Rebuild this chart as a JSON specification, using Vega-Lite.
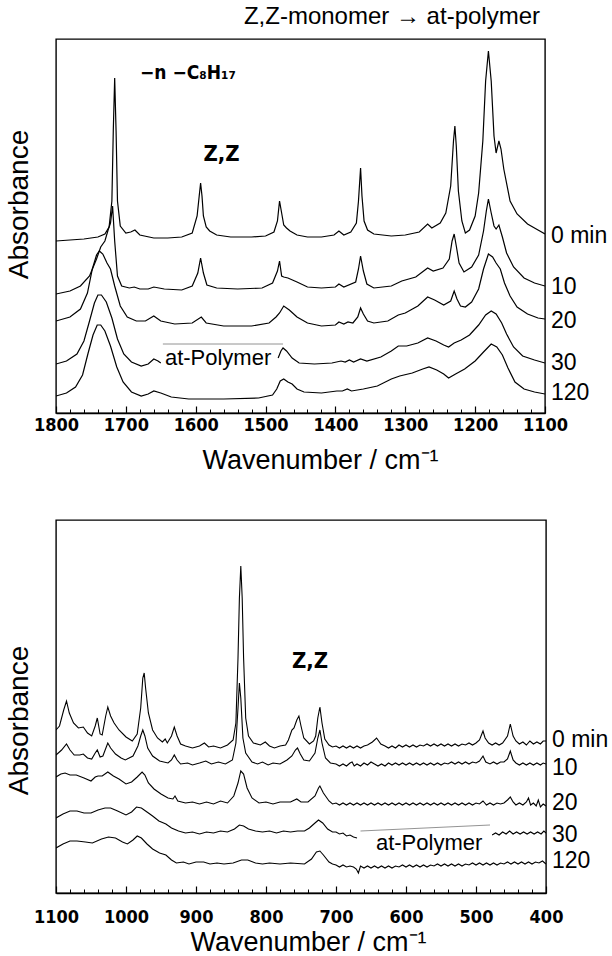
{
  "$schema": "https://vega.github.io/schema/vega-lite/v6.json",
  "padding": {"left": 4, "top": 4, "right": 0, "bottom": 0},
  "spacing": 45,
  "config": {
    "view": {"stroke": "black", "strokeWidth": 1.4},
    "font": "Liberation Sans",
    "axis": {"labelColor": "black", "titleColor": "black", "tickColor": "black", "domainColor": "black", "grid": false}
  },
  "datasets": {
    "top": [
      {"s":"0 min","x":1800,"y":1.72},{"s":"0 min","x":1780,"y":1.73},{"s":"0 min","x":1760,"y":1.74},{"s":"0 min","x":1740,"y":1.76},{"s":"0 min","x":1730,"y":1.79},{"s":"0 min","x":1724,"y":1.86},{"s":"0 min","x":1720,"y":2.12},{"s":"0 min","x":1718,"y":2.82},{"s":"0 min","x":1716,"y":3.35},{"s":"0 min","x":1714,"y":2.82},{"s":"0 min","x":1712,"y":2.12},{"s":"0 min","x":1708,"y":1.87},{"s":"0 min","x":1700,"y":1.80},{"s":"0 min","x":1693,"y":1.81},{"s":"0 min","x":1687,"y":1.83},{"s":"0 min","x":1680,"y":1.78},{"s":"0 min","x":1660,"y":1.75},{"s":"0 min","x":1640,"y":1.75},{"s":"0 min","x":1620,"y":1.76},{"s":"0 min","x":1605,"y":1.80},{"s":"0 min","x":1598,"y":1.97},{"s":"0 min","x":1595,"y":2.17},{"s":"0 min","x":1593,"y":2.30},{"s":"0 min","x":1591,"y":2.17},{"s":"0 min","x":1589,"y":1.97},{"s":"0 min","x":1585,"y":1.86},{"s":"0 min","x":1580,"y":1.82},{"s":"0 min","x":1570,"y":1.78},{"s":"0 min","x":1550,"y":1.76},{"s":"0 min","x":1520,"y":1.76},{"s":"0 min","x":1500,"y":1.77},{"s":"0 min","x":1488,"y":1.81},{"s":"0 min","x":1483,"y":1.92},{"s":"0 min","x":1480,"y":2.12},{"s":"0 min","x":1477,"y":2.00},{"s":"0 min","x":1474,"y":1.88},{"s":"0 min","x":1470,"y":1.85},{"s":"0 min","x":1465,"y":1.82},{"s":"0 min","x":1455,"y":1.78},{"s":"0 min","x":1440,"y":1.76},{"s":"0 min","x":1420,"y":1.76},{"s":"0 min","x":1402,"y":1.78},{"s":"0 min","x":1395,"y":1.82},{"s":"0 min","x":1388,"y":1.78},{"s":"0 min","x":1378,"y":1.81},{"s":"0 min","x":1370,"y":1.90},{"s":"0 min","x":1367,"y":2.12},{"s":"0 min","x":1364,"y":2.45},{"s":"0 min","x":1362,"y":2.17},{"s":"0 min","x":1359,"y":1.92},{"s":"0 min","x":1354,"y":1.83},{"s":"0 min","x":1345,"y":1.79},{"s":"0 min","x":1320,"y":1.77},{"s":"0 min","x":1300,"y":1.78},{"s":"0 min","x":1280,"y":1.81},{"s":"0 min","x":1268,"y":1.89},{"s":"0 min","x":1262,"y":1.85},{"s":"0 min","x":1250,"y":1.90},{"s":"0 min","x":1242,"y":2.00},{"s":"0 min","x":1235,"y":2.27},{"s":"0 min","x":1231,"y":2.72},{"s":"0 min","x":1229,"y":2.87},{"s":"0 min","x":1227,"y":2.67},{"s":"0 min","x":1224,"y":2.22},{"s":"0 min","x":1219,"y":1.92},{"s":"0 min","x":1214,"y":1.80},{"s":"0 min","x":1208,"y":1.83},{"s":"0 min","x":1200,"y":1.97},{"s":"0 min","x":1195,"y":2.20},{"s":"0 min","x":1189,"y":2.72},{"s":"0 min","x":1185,"y":3.32},{"s":"0 min","x":1181,"y":3.62},{"s":"0 min","x":1177,"y":3.32},{"s":"0 min","x":1173,"y":2.77},{"s":"0 min","x":1170,"y":2.60},{"s":"0 min","x":1166,"y":2.72},{"s":"0 min","x":1163,"y":2.64},{"s":"0 min","x":1159,"y":2.44},{"s":"0 min","x":1150,"y":2.12},{"s":"0 min","x":1140,"y":1.99},{"s":"0 min","x":1125,"y":1.89},{"s":"0 min","x":1110,"y":1.83},{"s":"0 min","x":1100,"y":1.79},
      {"s":"10","x":1800,"y":1.19},{"s":"10","x":1780,"y":1.22},{"s":"10","x":1765,"y":1.27},{"s":"10","x":1752,"y":1.37},{"s":"10","x":1742,"y":1.54},{"s":"10","x":1736,"y":1.66},{"s":"10","x":1730,"y":1.72},{"s":"10","x":1725,"y":1.84},{"s":"10","x":1722,"y":1.90},{"s":"10","x":1719,"y":2.07},{"s":"10","x":1716,"y":1.72},{"s":"10","x":1712,"y":1.37},{"s":"10","x":1706,"y":1.27},{"s":"10","x":1695,"y":1.25},{"s":"10","x":1688,"y":1.26},{"s":"10","x":1680,"y":1.24},{"s":"10","x":1668,"y":1.24},{"s":"10","x":1660,"y":1.26},{"s":"10","x":1645,"y":1.24},{"s":"10","x":1620,"y":1.23},{"s":"10","x":1605,"y":1.27},{"s":"10","x":1597,"y":1.40},{"s":"10","x":1593,"y":1.55},{"s":"10","x":1589,"y":1.40},{"s":"10","x":1584,"y":1.28},{"s":"10","x":1570,"y":1.25},{"s":"10","x":1540,"y":1.24},{"s":"10","x":1505,"y":1.25},{"s":"10","x":1490,"y":1.30},{"s":"10","x":1483,"y":1.42},{"s":"10","x":1480,"y":1.52},{"s":"10","x":1477,"y":1.37},{"s":"10","x":1474,"y":1.36},{"s":"10","x":1468,"y":1.35},{"s":"10","x":1455,"y":1.31},{"s":"10","x":1440,"y":1.26},{"s":"10","x":1420,"y":1.25},{"s":"10","x":1400,"y":1.26},{"s":"10","x":1395,"y":1.29},{"s":"10","x":1388,"y":1.26},{"s":"10","x":1371,"y":1.31},{"s":"10","x":1367,"y":1.44},{"s":"10","x":1364,"y":1.57},{"s":"10","x":1360,"y":1.42},{"s":"10","x":1355,"y":1.29},{"s":"10","x":1345,"y":1.25},{"s":"10","x":1320,"y":1.27},{"s":"10","x":1305,"y":1.32},{"s":"10","x":1285,"y":1.36},{"s":"10","x":1268,"y":1.45},{"s":"10","x":1260,"y":1.42},{"s":"10","x":1246,"y":1.45},{"s":"10","x":1237,"y":1.54},{"s":"10","x":1233,"y":1.72},{"s":"10","x":1230,"y":1.79},{"s":"10","x":1227,"y":1.67},{"s":"10","x":1223,"y":1.50},{"s":"10","x":1216,"y":1.41},{"s":"10","x":1205,"y":1.46},{"s":"10","x":1195,"y":1.58},{"s":"10","x":1188,"y":1.82},{"s":"10","x":1184,"y":2.02},{"s":"10","x":1181,"y":2.14},{"s":"10","x":1177,"y":2.00},{"s":"10","x":1173,"y":1.87},{"s":"10","x":1170,"y":1.84},{"s":"10","x":1166,"y":1.88},{"s":"10","x":1161,"y":1.76},{"s":"10","x":1155,"y":1.60},{"s":"10","x":1145,"y":1.46},{"s":"10","x":1130,"y":1.35},{"s":"10","x":1115,"y":1.30},{"s":"10","x":1100,"y":1.27},
      {"s":"20","x":1800,"y":0.92},{"s":"20","x":1780,"y":0.96},{"s":"20","x":1765,"y":1.04},{"s":"20","x":1755,"y":1.20},{"s":"20","x":1748,"y":1.44},{"s":"20","x":1742,"y":1.58},{"s":"20","x":1738,"y":1.62},{"s":"20","x":1733,"y":1.59},{"s":"20","x":1727,"y":1.50},{"s":"20","x":1722,"y":1.44},{"s":"20","x":1716,"y":1.27},{"s":"20","x":1708,"y":1.07},{"s":"20","x":1698,"y":0.96},{"s":"20","x":1685,"y":0.92},{"s":"20","x":1672,"y":0.92},{"s":"20","x":1660,"y":0.97},{"s":"20","x":1650,"y":0.92},{"s":"20","x":1630,"y":0.89},{"s":"20","x":1605,"y":0.90},{"s":"20","x":1592,"y":0.96},{"s":"20","x":1585,"y":0.90},{"s":"20","x":1560,"y":0.87},{"s":"20","x":1520,"y":0.87},{"s":"20","x":1495,"y":0.90},{"s":"20","x":1485,"y":0.96},{"s":"20","x":1480,"y":1.00},{"s":"20","x":1474,"y":1.07},{"s":"20","x":1466,"y":1.03},{"s":"20","x":1455,"y":0.96},{"s":"20","x":1440,"y":0.90},{"s":"20","x":1420,"y":0.87},{"s":"20","x":1400,"y":0.88},{"s":"20","x":1395,"y":0.91},{"s":"20","x":1388,"y":0.89},{"s":"20","x":1382,"y":0.91},{"s":"20","x":1375,"y":0.90},{"s":"20","x":1368,"y":0.96},{"s":"20","x":1364,"y":1.05},{"s":"20","x":1360,"y":0.99},{"s":"20","x":1354,"y":0.92},{"s":"20","x":1345,"y":0.90},{"s":"20","x":1325,"y":0.92},{"s":"20","x":1310,"y":0.98},{"s":"20","x":1300,"y":1.00},{"s":"20","x":1282,"y":1.07},{"s":"20","x":1268,"y":1.16},{"s":"20","x":1258,"y":1.13},{"s":"20","x":1245,"y":1.08},{"s":"20","x":1235,"y":1.12},{"s":"20","x":1230,"y":1.22},{"s":"20","x":1226,"y":1.14},{"s":"20","x":1221,"y":1.07},{"s":"20","x":1214,"y":1.06},{"s":"20","x":1205,"y":1.11},{"s":"20","x":1195,"y":1.24},{"s":"20","x":1188,"y":1.44},{"s":"20","x":1181,"y":1.59},{"s":"20","x":1175,"y":1.56},{"s":"20","x":1170,"y":1.50},{"s":"20","x":1164,"y":1.44},{"s":"20","x":1158,"y":1.30},{"s":"20","x":1150,"y":1.17},{"s":"20","x":1140,"y":1.06},{"s":"20","x":1125,"y":0.99},{"s":"20","x":1110,"y":0.95},{"s":"20","x":1100,"y":0.94},
      {"s":"30a","x":1800,"y":0.49},{"s":"30a","x":1785,"y":0.52},{"s":"30a","x":1770,"y":0.59},{"s":"30a","x":1760,"y":0.72},{"s":"30a","x":1752,"y":0.92},{"s":"30a","x":1745,"y":1.10},{"s":"30a","x":1740,"y":1.18},{"s":"30a","x":1735,"y":1.18},{"s":"30a","x":1728,"y":1.11},{"s":"30a","x":1720,"y":0.95},{"s":"30a","x":1712,"y":0.74},{"s":"30a","x":1703,"y":0.59},{"s":"30a","x":1692,"y":0.51},{"s":"30a","x":1678,"y":0.47},{"s":"30a","x":1668,"y":0.49},{"s":"30a","x":1660,"y":0.54},{"s":"30a","x":1654,"y":0.52},{"s":"30a","x":1650,"y":0.50},
      {"s":"30b","x":1482,"y":0.55},{"s":"30b","x":1478,"y":0.62},{"s":"30b","x":1475,"y":0.65},{"s":"30b","x":1470,"y":0.62},{"s":"30b","x":1462,"y":0.55},{"s":"30b","x":1452,"y":0.50},{"s":"30b","x":1430,"y":0.49},{"s":"30b","x":1405,"y":0.50},{"s":"30b","x":1392,"y":0.52},{"s":"30b","x":1386,"y":0.51},{"s":"30b","x":1380,"y":0.53},{"s":"30b","x":1374,"y":0.51},{"s":"30b","x":1364,"y":0.54},{"s":"30b","x":1355,"y":0.52},{"s":"30b","x":1335,"y":0.56},{"s":"30b","x":1320,"y":0.62},{"s":"30b","x":1310,"y":0.67},{"s":"30b","x":1298,"y":0.67},{"s":"30b","x":1282,"y":0.70},{"s":"30b","x":1268,"y":0.75},{"s":"30b","x":1256,"y":0.72},{"s":"30b","x":1245,"y":0.68},{"s":"30b","x":1238,"y":0.66},{"s":"30b","x":1230,"y":0.70},{"s":"30b","x":1220,"y":0.73},{"s":"30b","x":1208,"y":0.78},{"s":"30b","x":1195,"y":0.88},{"s":"30b","x":1185,"y":0.98},{"s":"30b","x":1177,"y":1.02},{"s":"30b","x":1170,"y":0.99},{"s":"30b","x":1162,"y":0.90},{"s":"30b","x":1155,"y":0.79},{"s":"30b","x":1145,"y":0.66},{"s":"30b","x":1132,"y":0.57},{"s":"30b","x":1115,"y":0.53},{"s":"30b","x":1100,"y":0.50},
      {"s":"120","x":1800,"y":0.17},{"s":"120","x":1785,"y":0.20},{"s":"120","x":1772,"y":0.26},{"s":"120","x":1762,"y":0.38},{"s":"120","x":1754,"y":0.60},{"s":"120","x":1747,"y":0.78},{"s":"120","x":1741,"y":0.88},{"s":"120","x":1736,"y":0.88},{"s":"120","x":1730,"y":0.82},{"s":"120","x":1722,"y":0.67},{"s":"120","x":1713,"y":0.46},{"s":"120","x":1704,"y":0.31},{"s":"120","x":1692,"y":0.21},{"s":"120","x":1678,"y":0.17},{"s":"120","x":1668,"y":0.19},{"s":"120","x":1660,"y":0.22},{"s":"120","x":1650,"y":0.20},{"s":"120","x":1635,"y":0.16},{"s":"120","x":1610,"y":0.14},{"s":"120","x":1560,"y":0.14},{"s":"120","x":1510,"y":0.15},{"s":"120","x":1490,"y":0.18},{"s":"120","x":1484,"y":0.24},{"s":"120","x":1479,"y":0.32},{"s":"120","x":1474,"y":0.34},{"s":"120","x":1468,"y":0.31},{"s":"120","x":1462,"y":0.29},{"s":"120","x":1455,"y":0.24},{"s":"120","x":1445,"y":0.21},{"s":"120","x":1420,"y":0.20},{"s":"120","x":1398,"y":0.22},{"s":"120","x":1390,"y":0.22},{"s":"120","x":1383,"y":0.24},{"s":"120","x":1377,"y":0.22},{"s":"120","x":1360,"y":0.24},{"s":"120","x":1340,"y":0.27},{"s":"120","x":1320,"y":0.34},{"s":"120","x":1308,"y":0.37},{"s":"120","x":1290,"y":0.40},{"s":"120","x":1275,"y":0.44},{"s":"120","x":1266,"y":0.46},{"s":"120","x":1255,"y":0.43},{"s":"120","x":1245,"y":0.39},{"s":"120","x":1238,"y":0.35},{"s":"120","x":1228,"y":0.39},{"s":"120","x":1215,"y":0.44},{"s":"120","x":1200,"y":0.52},{"s":"120","x":1188,"y":0.61},{"s":"120","x":1177,"y":0.69},{"s":"120","x":1169,"y":0.66},{"s":"120","x":1161,"y":0.58},{"s":"120","x":1153,"y":0.45},{"s":"120","x":1143,"y":0.31},{"s":"120","x":1130,"y":0.24},{"s":"120","x":1115,"y":0.21},{"s":"120","x":1100,"y":0.19}
    ],
    "bot": [
      {"s":"0 min","x":1100,"y":1.63},{"s":"0 min","x":1095,"y":1.67},{"s":"0 min","x":1089,"y":1.83},{"s":"0 min","x":1085,"y":1.92},{"s":"0 min","x":1081,"y":1.80},{"s":"0 min","x":1075,"y":1.70},{"s":"0 min","x":1068,"y":1.65},{"s":"0 min","x":1061,"y":1.66},{"s":"0 min","x":1055,"y":1.60},{"s":"0 min","x":1049,"y":1.57},{"s":"0 min","x":1044,"y":1.67},{"s":"0 min","x":1041,"y":1.75},{"s":"0 min","x":1037,"y":1.59},{"s":"0 min","x":1034,"y":1.58},{"s":"0 min","x":1029,"y":1.77},{"s":"0 min","x":1026,"y":1.86},{"s":"0 min","x":1022,"y":1.77},{"s":"0 min","x":1017,"y":1.70},{"s":"0 min","x":1010,"y":1.63},{"s":"0 min","x":1000,"y":1.56},{"s":"0 min","x":991,"y":1.52},{"s":"0 min","x":984,"y":1.59},{"s":"0 min","x":979,"y":1.85},{"s":"0 min","x":976,"y":2.15},{"s":"0 min","x":974,"y":2.20},{"s":"0 min","x":972,"y":2.05},{"s":"0 min","x":968,"y":1.80},{"s":"0 min","x":962,"y":1.63},{"s":"0 min","x":955,"y":1.55},{"s":"0 min","x":948,"y":1.51},{"s":"0 min","x":944,"y":1.54},{"s":"0 min","x":941,"y":1.50},{"s":"0 min","x":935,"y":1.57},{"s":"0 min","x":931,"y":1.66},{"s":"0 min","x":927,"y":1.57},{"s":"0 min","x":922,"y":1.49},{"s":"0 min","x":915,"y":1.47},{"s":"0 min","x":905,"y":1.45},{"s":"0 min","x":895,"y":1.47},{"s":"0 min","x":888,"y":1.50},{"s":"0 min","x":882,"y":1.46},{"s":"0 min","x":875,"y":1.47},{"s":"0 min","x":865,"y":1.45},{"s":"0 min","x":855,"y":1.48},{"s":"0 min","x":847,"y":1.53},{"s":"0 min","x":843,"y":1.70},{"s":"0 min","x":840,"y":2.35},{"s":"0 min","x":838,"y":2.95},{"s":"0 min","x":836,"y":3.27},{"s":"0 min","x":834,"y":2.95},{"s":"0 min","x":832,"y":2.35},{"s":"0 min","x":829,"y":1.75},{"s":"0 min","x":825,"y":1.57},{"s":"0 min","x":818,"y":1.50},{"s":"0 min","x":808,"y":1.48},{"s":"0 min","x":801,"y":1.51},{"s":"0 min","x":795,"y":1.47},{"s":"0 min","x":788,"y":1.45},{"s":"0 min","x":780,"y":1.47},{"s":"0 min","x":772,"y":1.48},{"s":"0 min","x":768,"y":1.53},{"s":"0 min","x":763,"y":1.63},{"s":"0 min","x":760,"y":1.65},{"s":"0 min","x":756,"y":1.73},{"s":"0 min","x":753,"y":1.77},{"s":"0 min","x":750,"y":1.67},{"s":"0 min","x":746,"y":1.55},{"s":"0 min","x":738,"y":1.49},{"s":"0 min","x":732,"y":1.52},{"s":"0 min","x":729,"y":1.57},{"s":"0 min","x":726,"y":1.75},{"s":"0 min","x":723,"y":1.86},{"s":"0 min","x":720,"y":1.70},{"s":"0 min","x":716,"y":1.54},{"s":"0 min","x":710,"y":1.48},{"s":"0 min","x":705,"y":1.46},{"s":"0 min","x":700,"y":1.47},{"s":"0 min","x":695,"y":1.45},{"s":"0 min","x":690,"y":1.47},{"s":"0 min","x":685,"y":1.45},{"s":"0 min","x":680,"y":1.47},{"s":"0 min","x":675,"y":1.45},{"s":"0 min","x":670,"y":1.47},{"s":"0 min","x":665,"y":1.45},{"s":"0 min","x":660,"y":1.47},{"s":"0 min","x":655,"y":1.48},{"s":"0 min","x":648,"y":1.51},{"s":"0 min","x":642,"y":1.55},{"s":"0 min","x":636,"y":1.49},{"s":"0 min","x":630,"y":1.47},{"s":"0 min","x":625,"y":1.45},{"s":"0 min","x":620,"y":1.47},{"s":"0 min","x":615,"y":1.45},{"s":"0 min","x":610,"y":1.48},{"s":"0 min","x":605,"y":1.46},{"s":"0 min","x":600,"y":1.48},{"s":"0 min","x":595,"y":1.46},{"s":"0 min","x":590,"y":1.48},{"s":"0 min","x":585,"y":1.46},{"s":"0 min","x":580,"y":1.48},{"s":"0 min","x":575,"y":1.47},{"s":"0 min","x":570,"y":1.49},{"s":"0 min","x":565,"y":1.47},{"s":"0 min","x":560,"y":1.49},{"s":"0 min","x":555,"y":1.47},{"s":"0 min","x":550,"y":1.49},{"s":"0 min","x":545,"y":1.47},{"s":"0 min","x":540,"y":1.49},{"s":"0 min","x":535,"y":1.47},{"s":"0 min","x":530,"y":1.49},{"s":"0 min","x":525,"y":1.47},{"s":"0 min","x":520,"y":1.49},{"s":"0 min","x":515,"y":1.48},{"s":"0 min","x":510,"y":1.50},{"s":"0 min","x":505,"y":1.48},{"s":"0 min","x":500,"y":1.50},{"s":"0 min","x":495,"y":1.53},{"s":"0 min","x":490,"y":1.62},{"s":"0 min","x":487,"y":1.55},{"s":"0 min","x":482,"y":1.50},{"s":"0 min","x":477,"y":1.48},{"s":"0 min","x":472,"y":1.50},{"s":"0 min","x":467,"y":1.48},{"s":"0 min","x":462,"y":1.50},{"s":"0 min","x":455,"y":1.57},{"s":"0 min","x":451,"y":1.69},{"s":"0 min","x":447,"y":1.57},{"s":"0 min","x":443,"y":1.52},{"s":"0 min","x":438,"y":1.49},{"s":"0 min","x":433,"y":1.51},{"s":"0 min","x":428,"y":1.48},{"s":"0 min","x":423,"y":1.52},{"s":"0 min","x":418,"y":1.49},{"s":"0 min","x":413,"y":1.51},{"s":"0 min","x":408,"y":1.49},{"s":"0 min","x":404,"y":1.52},{"s":"0 min","x":400,"y":1.52},
      {"s":"10","x":1100,"y":1.38},{"s":"10","x":1092,"y":1.43},{"s":"10","x":1085,"y":1.49},{"s":"10","x":1080,"y":1.43},{"s":"10","x":1074,"y":1.38},{"s":"10","x":1066,"y":1.38},{"s":"10","x":1061,"y":1.39},{"s":"10","x":1055,"y":1.35},{"s":"10","x":1049,"y":1.34},{"s":"10","x":1044,"y":1.40},{"s":"10","x":1041,"y":1.43},{"s":"10","x":1037,"y":1.36},{"s":"10","x":1033,"y":1.37},{"s":"10","x":1026,"y":1.50},{"s":"10","x":1022,"y":1.45},{"s":"10","x":1015,"y":1.39},{"s":"10","x":1007,"y":1.35},{"s":"10","x":1001,"y":1.33},{"s":"10","x":990,"y":1.37},{"s":"10","x":983,"y":1.47},{"s":"10","x":979,"y":1.57},{"s":"10","x":976,"y":1.63},{"s":"10","x":973,"y":1.57},{"s":"10","x":969,"y":1.45},{"s":"10","x":962,"y":1.37},{"s":"10","x":952,"y":1.32},{"s":"10","x":940,"y":1.30},{"s":"10","x":935,"y":1.33},{"s":"10","x":931,"y":1.38},{"s":"10","x":927,"y":1.33},{"s":"10","x":922,"y":1.29},{"s":"10","x":912,"y":1.30},{"s":"10","x":905,"y":1.28},{"s":"10","x":895,"y":1.30},{"s":"10","x":886,"y":1.32},{"s":"10","x":878,"y":1.29},{"s":"10","x":868,"y":1.31},{"s":"10","x":858,"y":1.29},{"s":"10","x":848,"y":1.33},{"s":"10","x":843,"y":1.50},{"s":"10","x":840,"y":1.85},{"s":"10","x":838,"y":2.10},{"s":"10","x":836,"y":1.95},{"s":"10","x":833,"y":1.55},{"s":"10","x":829,"y":1.40},{"s":"10","x":820,"y":1.31},{"s":"10","x":812,"y":1.29},{"s":"10","x":805,"y":1.31},{"s":"10","x":797,"y":1.28},{"s":"10","x":790,"y":1.30},{"s":"10","x":780,"y":1.29},{"s":"10","x":770,"y":1.33},{"s":"10","x":763,"y":1.37},{"s":"10","x":758,"y":1.43},{"s":"10","x":755,"y":1.45},{"s":"10","x":751,"y":1.39},{"s":"10","x":746,"y":1.33},{"s":"10","x":738,"y":1.32},{"s":"10","x":730,"y":1.40},{"s":"10","x":726,"y":1.55},{"s":"10","x":723,"y":1.63},{"s":"10","x":720,"y":1.50},{"s":"10","x":715,"y":1.35},{"s":"10","x":708,"y":1.30},{"s":"10","x":700,"y":1.29},{"s":"10","x":695,"y":1.27},{"s":"10","x":690,"y":1.29},{"s":"10","x":685,"y":1.27},{"s":"10","x":680,"y":1.30},{"s":"10","x":677,"y":1.31},{"s":"10","x":674,"y":1.27},{"s":"10","x":670,"y":1.29},{"s":"10","x":665,"y":1.27},{"s":"10","x":660,"y":1.30},{"s":"10","x":655,"y":1.28},{"s":"10","x":650,"y":1.31},{"s":"10","x":645,"y":1.29},{"s":"10","x":640,"y":1.27},{"s":"10","x":635,"y":1.29},{"s":"10","x":630,"y":1.27},{"s":"10","x":625,"y":1.30},{"s":"10","x":620,"y":1.28},{"s":"10","x":615,"y":1.30},{"s":"10","x":610,"y":1.28},{"s":"10","x":605,"y":1.30},{"s":"10","x":600,"y":1.28},{"s":"10","x":595,"y":1.30},{"s":"10","x":590,"y":1.28},{"s":"10","x":585,"y":1.30},{"s":"10","x":580,"y":1.28},{"s":"10","x":575,"y":1.30},{"s":"10","x":570,"y":1.28},{"s":"10","x":565,"y":1.30},{"s":"10","x":560,"y":1.28},{"s":"10","x":555,"y":1.30},{"s":"10","x":550,"y":1.28},{"s":"10","x":545,"y":1.30},{"s":"10","x":540,"y":1.29},{"s":"10","x":535,"y":1.31},{"s":"10","x":530,"y":1.29},{"s":"10","x":525,"y":1.31},{"s":"10","x":520,"y":1.29},{"s":"10","x":515,"y":1.31},{"s":"10","x":510,"y":1.29},{"s":"10","x":505,"y":1.31},{"s":"10","x":500,"y":1.30},{"s":"10","x":495,"y":1.32},{"s":"10","x":490,"y":1.37},{"s":"10","x":486,"y":1.31},{"s":"10","x":480,"y":1.29},{"s":"10","x":475,"y":1.31},{"s":"10","x":470,"y":1.29},{"s":"10","x":465,"y":1.31},{"s":"10","x":460,"y":1.31},{"s":"10","x":455,"y":1.34},{"s":"10","x":451,"y":1.42},{"s":"10","x":447,"y":1.33},{"s":"10","x":443,"y":1.30},{"s":"10","x":438,"y":1.28},{"s":"10","x":433,"y":1.30},{"s":"10","x":428,"y":1.28},{"s":"10","x":423,"y":1.30},{"s":"10","x":418,"y":1.28},{"s":"10","x":413,"y":1.30},{"s":"10","x":408,"y":1.28},{"s":"10","x":404,"y":1.30},{"s":"10","x":400,"y":1.29},
      {"s":"20","x":1100,"y":1.16},{"s":"20","x":1093,"y":1.19},{"s":"20","x":1087,"y":1.20},{"s":"20","x":1080,"y":1.18},{"s":"20","x":1071,"y":1.18},{"s":"20","x":1060,"y":1.15},{"s":"20","x":1050,"y":1.12},{"s":"20","x":1044,"y":1.16},{"s":"20","x":1040,"y":1.17},{"s":"20","x":1034,"y":1.17},{"s":"20","x":1026,"y":1.21},{"s":"20","x":1018,"y":1.17},{"s":"20","x":1010,"y":1.14},{"s":"20","x":1000,"y":1.09},{"s":"20","x":992,"y":1.11},{"s":"20","x":984,"y":1.16},{"s":"20","x":977,"y":1.21},{"s":"20","x":973,"y":1.18},{"s":"20","x":968,"y":1.10},{"s":"20","x":960,"y":1.04},{"s":"20","x":950,"y":0.99},{"s":"20","x":940,"y":0.95},{"s":"20","x":933,"y":0.94},{"s":"20","x":930,"y":0.97},{"s":"20","x":926,"y":0.92},{"s":"20","x":915,"y":0.90},{"s":"20","x":905,"y":0.91},{"s":"20","x":895,"y":0.89},{"s":"20","x":885,"y":0.91},{"s":"20","x":875,"y":0.89},{"s":"20","x":865,"y":0.92},{"s":"20","x":855,"y":0.90},{"s":"20","x":846,"y":0.97},{"s":"20","x":840,"y":1.10},{"s":"20","x":836,"y":1.22},{"s":"20","x":832,"y":1.19},{"s":"20","x":827,"y":1.05},{"s":"20","x":820,"y":0.95},{"s":"20","x":810,"y":0.90},{"s":"20","x":800,"y":0.91},{"s":"20","x":790,"y":0.89},{"s":"20","x":780,"y":0.91},{"s":"20","x":765,"y":0.91},{"s":"20","x":756,"y":0.94},{"s":"20","x":750,"y":0.91},{"s":"20","x":740,"y":0.91},{"s":"20","x":730,"y":0.97},{"s":"20","x":725,"y":1.05},{"s":"20","x":723,"y":1.07},{"s":"20","x":718,"y":1.00},{"s":"20","x":710,"y":0.92},{"s":"20","x":705,"y":0.89},{"s":"20","x":700,"y":0.90},{"s":"20","x":695,"y":0.88},{"s":"20","x":690,"y":0.90},{"s":"20","x":685,"y":0.88},{"s":"20","x":680,"y":0.90},{"s":"20","x":675,"y":0.88},{"s":"20","x":670,"y":0.90},{"s":"20","x":665,"y":0.88},{"s":"20","x":660,"y":0.90},{"s":"20","x":655,"y":0.88},{"s":"20","x":650,"y":0.90},{"s":"20","x":645,"y":0.88},{"s":"20","x":640,"y":0.90},{"s":"20","x":635,"y":0.88},{"s":"20","x":630,"y":0.90},{"s":"20","x":625,"y":0.88},{"s":"20","x":620,"y":0.90},{"s":"20","x":615,"y":0.88},{"s":"20","x":610,"y":0.90},{"s":"20","x":605,"y":0.88},{"s":"20","x":600,"y":0.90},{"s":"20","x":595,"y":0.88},{"s":"20","x":590,"y":0.90},{"s":"20","x":585,"y":0.88},{"s":"20","x":580,"y":0.90},{"s":"20","x":575,"y":0.88},{"s":"20","x":570,"y":0.90},{"s":"20","x":565,"y":0.88},{"s":"20","x":560,"y":0.90},{"s":"20","x":555,"y":0.88},{"s":"20","x":550,"y":0.90},{"s":"20","x":545,"y":0.88},{"s":"20","x":540,"y":0.90},{"s":"20","x":535,"y":0.88},{"s":"20","x":530,"y":0.90},{"s":"20","x":525,"y":0.88},{"s":"20","x":520,"y":0.90},{"s":"20","x":515,"y":0.88},{"s":"20","x":510,"y":0.90},{"s":"20","x":505,"y":0.88},{"s":"20","x":500,"y":0.90},{"s":"20","x":495,"y":0.89},{"s":"20","x":490,"y":0.92},{"s":"20","x":485,"y":0.88},{"s":"20","x":480,"y":0.90},{"s":"20","x":475,"y":0.88},{"s":"20","x":470,"y":0.90},{"s":"20","x":465,"y":0.89},{"s":"20","x":460,"y":0.90},{"s":"20","x":455,"y":0.93},{"s":"20","x":451,"y":0.96},{"s":"20","x":447,"y":0.91},{"s":"20","x":443,"y":0.88},{"s":"20","x":438,"y":0.90},{"s":"20","x":433,"y":0.88},{"s":"20","x":428,"y":0.91},{"s":"20","x":425,"y":0.95},{"s":"20","x":422,"y":0.88},{"s":"20","x":418,"y":0.90},{"s":"20","x":414,"y":0.87},{"s":"20","x":411,"y":0.93},{"s":"20","x":408,"y":0.86},{"s":"20","x":404,"y":0.89},{"s":"20","x":400,"y":0.87},
      {"s":"30a","x":1100,"y":0.75},{"s":"30a","x":1090,"y":0.79},{"s":"30a","x":1080,"y":0.82},{"s":"30a","x":1070,"y":0.82},{"s":"30a","x":1060,"y":0.80},{"s":"30a","x":1050,"y":0.80},{"s":"30a","x":1040,"y":0.83},{"s":"30a","x":1030,"y":0.85},{"s":"30a","x":1022,"y":0.85},{"s":"30a","x":1012,"y":0.82},{"s":"30a","x":1000,"y":0.78},{"s":"30a","x":992,"y":0.81},{"s":"30a","x":985,"y":0.86},{"s":"30a","x":978,"y":0.85},{"s":"30a","x":970,"y":0.81},{"s":"30a","x":962,"y":0.77},{"s":"30a","x":953,"y":0.72},{"s":"30a","x":943,"y":0.69},{"s":"30a","x":935,"y":0.65},{"s":"30a","x":925,"y":0.62},{"s":"30a","x":915,"y":0.60},{"s":"30a","x":905,"y":0.61},{"s":"30a","x":895,"y":0.59},{"s":"30a","x":885,"y":0.61},{"s":"30a","x":875,"y":0.60},{"s":"30a","x":865,"y":0.62},{"s":"30a","x":855,"y":0.61},{"s":"30a","x":845,"y":0.64},{"s":"30a","x":838,"y":0.68},{"s":"30a","x":832,"y":0.67},{"s":"30a","x":825,"y":0.64},{"s":"30a","x":815,"y":0.62},{"s":"30a","x":805,"y":0.61},{"s":"30a","x":795,"y":0.62},{"s":"30a","x":785,"y":0.60},{"s":"30a","x":775,"y":0.62},{"s":"30a","x":765,"y":0.61},{"s":"30a","x":755,"y":0.62},{"s":"30a","x":745,"y":0.62},{"s":"30a","x":738,"y":0.65},{"s":"30a","x":730,"y":0.70},{"s":"30a","x":725,"y":0.73},{"s":"30a","x":719,"y":0.70},{"s":"30a","x":712,"y":0.64},{"s":"30a","x":705,"y":0.61},{"s":"30a","x":700,"y":0.61},{"s":"30a","x":695,"y":0.59},{"s":"30a","x":690,"y":0.60},{"s":"30a","x":685,"y":0.57},{"s":"30a","x":680,"y":0.58},{"s":"30a","x":675,"y":0.56},{"s":"30a","x":670,"y":0.55},
      {"s":"30b","x":477,"y":0.58},{"s":"30b","x":472,"y":0.60},{"s":"30b","x":467,"y":0.58},{"s":"30b","x":462,"y":0.61},{"s":"30b","x":457,"y":0.59},{"s":"30b","x":452,"y":0.62},{"s":"30b","x":447,"y":0.59},{"s":"30b","x":442,"y":0.61},{"s":"30b","x":437,"y":0.59},{"s":"30b","x":432,"y":0.61},{"s":"30b","x":427,"y":0.59},{"s":"30b","x":422,"y":0.61},{"s":"30b","x":417,"y":0.59},{"s":"30b","x":412,"y":0.61},{"s":"30b","x":407,"y":0.59},{"s":"30b","x":403,"y":0.62},{"s":"30b","x":400,"y":0.60},
      {"s":"120","x":1100,"y":0.45},{"s":"120","x":1090,"y":0.49},{"s":"120","x":1080,"y":0.52},{"s":"120","x":1070,"y":0.52},{"s":"120","x":1058,"y":0.51},{"s":"120","x":1048,"y":0.50},{"s":"120","x":1035,"y":0.54},{"s":"120","x":1025,"y":0.56},{"s":"120","x":1015,"y":0.55},{"s":"120","x":1005,"y":0.51},{"s":"120","x":998,"y":0.49},{"s":"120","x":990,"y":0.53},{"s":"120","x":984,"y":0.57},{"s":"120","x":978,"y":0.55},{"s":"120","x":970,"y":0.49},{"s":"120","x":962,"y":0.44},{"s":"120","x":952,"y":0.40},{"s":"120","x":943,"y":0.38},{"s":"120","x":935,"y":0.33},{"s":"120","x":928,"y":0.30},{"s":"120","x":918,"y":0.31},{"s":"120","x":910,"y":0.29},{"s":"120","x":900,"y":0.31},{"s":"120","x":889,"y":0.31},{"s":"120","x":880,"y":0.29},{"s":"120","x":870,"y":0.30},{"s":"120","x":860,"y":0.29},{"s":"120","x":847,"y":0.30},{"s":"120","x":835,"y":0.33},{"s":"120","x":826,"y":0.33},{"s":"120","x":815,"y":0.30},{"s":"120","x":805,"y":0.29},{"s":"120","x":795,"y":0.30},{"s":"120","x":780,"y":0.29},{"s":"120","x":765,"y":0.30},{"s":"120","x":745,"y":0.29},{"s":"120","x":735,"y":0.34},{"s":"120","x":728,"y":0.41},{"s":"120","x":723,"y":0.42},{"s":"120","x":718,"y":0.38},{"s":"120","x":710,"y":0.31},{"s":"120","x":705,"y":0.29},{"s":"120","x":700,"y":0.28},{"s":"120","x":695,"y":0.26},{"s":"120","x":690,"y":0.28},{"s":"120","x":685,"y":0.26},{"s":"120","x":680,"y":0.27},{"s":"120","x":675,"y":0.26},{"s":"120","x":671,"y":0.24},{"s":"120","x":668,"y":0.20},{"s":"120","x":665,"y":0.27},{"s":"120","x":660,"y":0.25},{"s":"120","x":655,"y":0.27},{"s":"120","x":650,"y":0.25},{"s":"120","x":645,"y":0.27},{"s":"120","x":640,"y":0.25},{"s":"120","x":635,"y":0.27},{"s":"120","x":630,"y":0.25},{"s":"120","x":625,"y":0.27},{"s":"120","x":620,"y":0.25},{"s":"120","x":615,"y":0.27},{"s":"120","x":610,"y":0.26},{"s":"120","x":605,"y":0.28},{"s":"120","x":600,"y":0.26},{"s":"120","x":595,"y":0.28},{"s":"120","x":590,"y":0.26},{"s":"120","x":585,"y":0.28},{"s":"120","x":580,"y":0.26},{"s":"120","x":575,"y":0.28},{"s":"120","x":570,"y":0.26},{"s":"120","x":565,"y":0.28},{"s":"120","x":560,"y":0.27},{"s":"120","x":555,"y":0.29},{"s":"120","x":550,"y":0.27},{"s":"120","x":545,"y":0.29},{"s":"120","x":540,"y":0.27},{"s":"120","x":535,"y":0.29},{"s":"120","x":530,"y":0.27},{"s":"120","x":525,"y":0.29},{"s":"120","x":520,"y":0.27},{"s":"120","x":515,"y":0.29},{"s":"120","x":510,"y":0.28},{"s":"120","x":505,"y":0.30},{"s":"120","x":500,"y":0.28},{"s":"120","x":495,"y":0.30},{"s":"120","x":490,"y":0.28},{"s":"120","x":485,"y":0.30},{"s":"120","x":480,"y":0.28},{"s":"120","x":475,"y":0.30},{"s":"120","x":470,"y":0.28},{"s":"120","x":465,"y":0.30},{"s":"120","x":460,"y":0.29},{"s":"120","x":455,"y":0.31},{"s":"120","x":450,"y":0.29},{"s":"120","x":445,"y":0.31},{"s":"120","x":440,"y":0.29},{"s":"120","x":435,"y":0.31},{"s":"120","x":430,"y":0.29},{"s":"120","x":425,"y":0.31},{"s":"120","x":420,"y":0.29},{"s":"120","x":415,"y":0.31},{"s":"120","x":410,"y":0.30},{"s":"120","x":405,"y":0.32},{"s":"120","x":400,"y":0.29}
    ],
    "topLab": [
      {"x":1100,"y":1.77,"t":"0 min"},{"x":1100,"y":1.26,"t":"10"},{"x":1100,"y":0.92,"t":"20"},{"x":1100,"y":0.50,"t":"30"},{"x":1100,"y":0.20,"t":"120"}
    ],
    "botLab": [
      {"x":400,"y":1.53,"t":"0 min"},{"x":400,"y":1.25,"t":"10"},{"x":400,"y":0.90,"t":"20"},{"x":400,"y":0.58,"t":"30"},{"x":400,"y":0.32,"t":"120"}
    ],
    "topBold": [
      {"x":1611,"y":3.40,"t":"−n −C₈H₁₇","sz":19},{"x":1563,"y":2.59,"t":"Z,Z","sz":22}
    ],
    "topPoly": [{"x":1568,"y":0.55,"t":"at-Polymer"}],
    "topRule": [{"x":1647,"x2":1475,"y":0.69,"y2":0.69}],
    "botBold": [{"x":737,"y":2.32,"t":"Z,Z","sz":22}],
    "botPoly": [{"x":567,"y":0.50,"t":"at-Polymer"}],
    "botRule": [{"x":665,"x2":480,"y":0.62,"y2":0.68}]
  },
  "vconcat": [
    {
      "width": 489,
      "height": 374,
      "title": {"text": "Z,Z-monomer → at-polymer", "anchor": "end", "frame": "group", "dx": -5, "fontSize": 24, "fontWeight": "normal", "font": "Liberation Sans", "offset": 10, "color": "black"},
      "resolve": {"axis": {"x": "independent"}},
      "layer": [
        {
          "data": {"name": "top"},
          "mark": {"type": "line", "color": "black", "strokeWidth": 1.2, "clip": true},
          "encoding": {
            "x": {"field": "x", "type": "quantitative", "scale": {"domain": [1800, 1100], "nice": false, "zero": false},
              "axis": {"orient": "bottom", "values": [1800,1700,1600,1500,1400,1300,1200,1100], "format": "d", "title": "Wavenumber / cm⁻¹", "titleFontSize": 27, "titleFontWeight": "normal", "titleFont": "Liberation Sans", "titlePadding": 13, "titleX": 264, "labelFont": "Liberation Sans Narrow, DejaVu Sans Condensed, sans-serif", "labelFontWeight": "bold", "labelFontSize": 18, "labelPadding": 10, "tickSize": -7, "tickWidth": 1.2, "domainWidth": 1.4, "labelFlush": false, "labelOverlap": false}},
            "y": {"field": "y", "type": "quantitative", "scale": {"domain": [0, 3.74], "nice": false},
              "axis": {"title": "Absorbance", "ticks": false, "labels": false, "domain": false, "titleFontSize": 28, "titleFontWeight": "normal", "titleFont": "Liberation Sans", "titlePadding": 23, "titleY": 165}},
            "detail": {"field": "s"}
          }
        },
        {
          "data": {"name": "topLab"},
          "mark": {"type": "text", "align": "left", "baseline": "middle", "dx": 6, "fontSize": 23, "font": "Liberation Sans", "color": "black", "clip": false},
          "encoding": {
            "x": {"field": "x", "type": "quantitative", "axis": {"orient": "bottom", "values": [1780,1760,1740,1720,1680,1660,1640,1620,1580,1560,1540,1520,1480,1460,1440,1420,1380,1360,1340,1320,1280,1260,1240,1220,1180,1160,1140,1120], "labels": false, "title": null, "domain": false, "tickSize": -4, "tickWidth": 1}},
            "y": {"field": "y", "type": "quantitative"},
            "text": {"field": "t"}
          }
        },
        {
          "data": {"name": "topBold"},
          "mark": {"type": "text", "align": "center", "baseline": "middle", "fontWeight": "bold", "font": "Liberation Sans Narrow, DejaVu Sans Condensed, sans-serif", "color": "black"},
          "encoding": {
            "x": {"field": "x", "type": "quantitative", "axis": null},
            "y": {"field": "y", "type": "quantitative"},
            "text": {"field": "t"},
            "size": {"field": "sz", "type": "quantitative", "scale": null}
          }
        },
        {
          "data": {"name": "topPoly"},
          "mark": {"type": "text", "align": "center", "baseline": "middle", "fontSize": 22, "font": "Liberation Sans", "color": "black"},
          "encoding": {
            "x": {"field": "x", "type": "quantitative", "axis": null},
            "y": {"field": "y", "type": "quantitative"},
            "text": {"field": "t"}
          }
        },
        {
          "data": {"name": "topRule"},
          "mark": {"type": "rule", "color": "#777777", "strokeWidth": 0.8},
          "encoding": {
            "x": {"field": "x", "type": "quantitative", "axis": null},
            "x2": {"field": "x2"},
            "y": {"field": "y", "type": "quantitative"},
            "y2": {"field": "y2"}
          }
        }
      ]
    },
    {
      "width": 490,
      "height": 373,
      "resolve": {"axis": {"x": "independent"}},
      "layer": [
        {
          "data": {"name": "bot"},
          "mark": {"type": "line", "color": "black", "strokeWidth": 1.1, "clip": true},
          "encoding": {
            "x": {"field": "x", "type": "quantitative", "scale": {"domain": [1100, 400], "nice": false, "zero": false},
              "axis": {"orient": "bottom", "values": [1100,1000,900,800,700,600,500,400], "format": "d", "title": "Wavenumber / cm⁻¹", "titleFontSize": 27, "titleFontWeight": "normal", "titleFont": "Liberation Sans", "titlePadding": 3, "titleX": 252, "labelFont": "Liberation Sans Narrow, DejaVu Sans Condensed, sans-serif", "labelFontWeight": "bold", "labelFontSize": 18, "labelPadding": 22, "tickSize": -7, "tickWidth": 1.2, "domainWidth": 1.4, "labelFlush": false, "labelOverlap": false}},
            "y": {"field": "y", "type": "quantitative", "scale": {"domain": [0, 3.73], "nice": false},
              "axis": {"title": "Absorbance", "ticks": false, "labels": false, "domain": false, "titleFontSize": 28, "titleFontWeight": "normal", "titleFont": "Liberation Sans", "titlePadding": 23, "titleY": 200}},
            "detail": {"field": "s"}
          }
        },
        {
          "data": {"name": "botLab"},
          "mark": {"type": "text", "align": "left", "baseline": "middle", "dx": 6, "fontSize": 23, "font": "Liberation Sans", "color": "black", "clip": false},
          "encoding": {
            "x": {"field": "x", "type": "quantitative", "axis": {"orient": "bottom", "values": [1080,1060,1040,1020,980,960,940,920,880,860,840,820,780,760,740,720,680,660,640,620,580,560,540,520,480,460,440,420], "labels": false, "title": null, "domain": false, "tickSize": -4, "tickWidth": 1}},
            "y": {"field": "y", "type": "quantitative"},
            "text": {"field": "t"}
          }
        },
        {
          "data": {"name": "botBold"},
          "mark": {"type": "text", "align": "center", "baseline": "middle", "fontWeight": "bold", "font": "Liberation Sans Narrow, DejaVu Sans Condensed, sans-serif", "color": "black"},
          "encoding": {
            "x": {"field": "x", "type": "quantitative", "axis": null},
            "y": {"field": "y", "type": "quantitative"},
            "text": {"field": "t"},
            "size": {"field": "sz", "type": "quantitative", "scale": null}
          }
        },
        {
          "data": {"name": "botPoly"},
          "mark": {"type": "text", "align": "center", "baseline": "middle", "fontSize": 22, "font": "Liberation Sans", "color": "black"},
          "encoding": {
            "x": {"field": "x", "type": "quantitative", "axis": null},
            "y": {"field": "y", "type": "quantitative"},
            "text": {"field": "t"}
          }
        },
        {
          "data": {"name": "botRule"},
          "mark": {"type": "rule", "color": "#777777", "strokeWidth": 0.8},
          "encoding": {
            "x": {"field": "x", "type": "quantitative", "axis": null},
            "x2": {"field": "x2"},
            "y": {"field": "y", "type": "quantitative"},
            "y2": {"field": "y2"}
          }
        }
      ]
    }
  ]
}
